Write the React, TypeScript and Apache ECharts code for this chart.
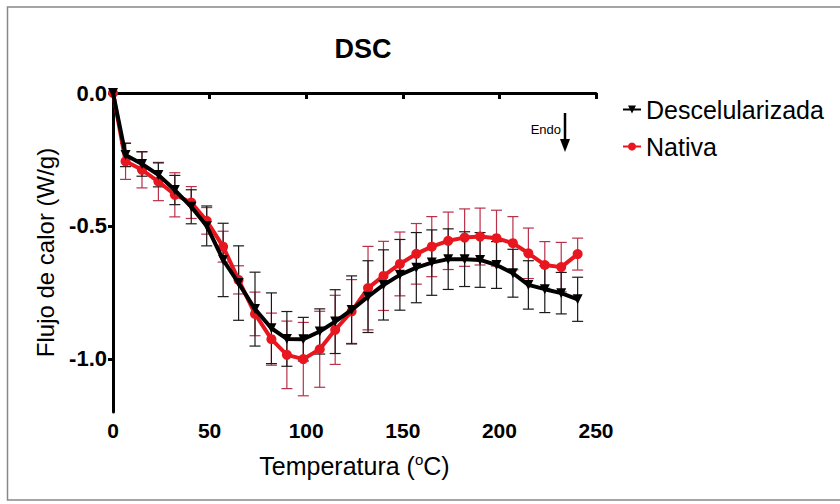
import React, { useEffect, useRef } from "react";
import * as echarts from "echarts";

const temps = [0, 6.5, 15, 23.5, 32, 40.5, 48.5, 57, 65, 73.5, 82, 90, 98.5, 107, 115, 123.5, 132, 140, 148.5, 157, 165, 173.5, 182, 190, 198.5, 207, 215, 223.5, 232, 240.5];
const descel = [0, -0.233, -0.267, -0.308, -0.365, -0.428, -0.5, -0.628, -0.715, -0.813, -0.885, -0.925, -0.926, -0.897, -0.86, -0.816, -0.766, -0.722, -0.684, -0.657, -0.638, -0.625, -0.625, -0.628, -0.647, -0.678, -0.722, -0.738, -0.753, -0.776];
const descelErr = [0, 0.044, 0.046, 0.045, 0.055, 0.064, 0.075, 0.138, 0.14, 0.139, 0.133, 0.103, 0.082, 0.085, 0.12, 0.128, 0.135, 0.132, 0.133, 0.132, 0.123, 0.114, 0.103, 0.103, 0.088, 0.09, 0.091, 0.088, 0.078, 0.083];
const nativa = [0, -0.257, -0.289, -0.333, -0.383, -0.412, -0.481, -0.578, -0.703, -0.831, -0.926, -0.985, -1.001, -0.964, -0.891, -0.822, -0.734, -0.688, -0.643, -0.605, -0.578, -0.556, -0.544, -0.54, -0.546, -0.565, -0.603, -0.647, -0.655, -0.606];
const nativaErr = [0, 0.068, 0.068, 0.072, 0.083, 0.06, 0.05, 0.058, 0.053, 0.082, 0.098, 0.127, 0.138, 0.143, 0.13, 0.12, 0.157, 0.13, 0.12, 0.114, 0.113, 0.108, 0.108, 0.107, 0.105, 0.1, 0.095, 0.088, 0.093, 0.06];
const yTicks = [0, -0.5, -1.0];
const seriesNames = ["Descelularizada", "Nativa"];

const FONT = "'Liberation Sans', Arial, sans-serif";

function errRender(color: string) {
  return (params: any, api: any) => {
    const x = api.value(0);
    const lo = api.value(1);
    const hi = api.value(2);
    if (hi - lo <= 0) return null;
    const p1 = api.coord([x, hi]);
    const p2 = api.coord([x, lo]);
    const w = 5.5;
    const style = { stroke: color, lineWidth: 1.2, fill: "none" };
    return {
      type: "group",
      children: [
        { type: "line", shape: { x1: p1[0], y1: p1[1], x2: p2[0], y2: p2[1] }, style },
        { type: "line", shape: { x1: p1[0] - w, y1: p1[1], x2: p1[0] + w, y2: p1[1] }, style },
        { type: "line", shape: { x1: p2[0] - w, y1: p2[1], x2: p2[0] + w, y2: p2[1] }, style },
      ],
    };
  };
}

export default function App() {
  const ref = useRef<HTMLDivElement>(null);
  useEffect(() => {
    if (!ref.current) return;
    const chart = echarts.init(ref.current, null, { renderer: "svg" });
    const dData = temps.map((t, i) => [t, descel[i]]);
    const nData = temps.map((t, i) => [t, nativa[i]]);
    const dErr = temps.map((t, i) => [t, descel[i] - descelErr[i], descel[i] + descelErr[i]]);
    const nErr = temps.map((t, i) => [t, nativa[i] - nativaErr[i], nativa[i] + nativaErr[i]]);
    chart.setOption({
      animation: false,
      backgroundColor: "#fff",
      textStyle: { fontFamily: FONT },
      title: {
        text: "DSC",
        left: 358,
        top: 30,
        textAlign: "center",
        textStyle: { fontFamily: FONT, fontWeight: "bold", fontSize: 27, color: "#000" },
      },
      legend: {
        data: seriesNames,
        orient: "vertical",
        left: 617,
        top: 92,
        itemGap: 12,
        itemWidth: 18,
        itemHeight: 10,
        textStyle: { fontFamily: FONT, fontSize: 25, color: "#000" },
      },
      grid: { left: 113, top: 93, width: 483, height: 319 },
      xAxis: {
        type: "value",
        min: 0,
        max: 250,
        interval: 50,
        name: "Temperatura ({sup|o}C)",
        nameLocation: "middle",
        nameGap: 40,
        nameTextStyle: {
          fontFamily: FONT,
          fontSize: 25,
          color: "#000",
          rich: { sup: { fontSize: 15, verticalAlign: "top", padding: [0, 0, 12, 0], color: "#000", fontFamily: FONT } },
        },
        axisLine: { lineStyle: { color: "#000", width: 3 } },
        axisTick: { show: true, length: 6, lineStyle: { color: "#000", width: 3 } },
        axisLabel: { fontFamily: FONT, fontWeight: "bold", fontSize: 21, color: "#000", margin: 8 },
        splitLine: { show: false },
      },
      yAxis: {
        type: "value",
        min: -1.2,
        max: 0,
        name: "Flujo de calor (W/g)",
        nameLocation: "middle",
        nameGap: 56,
        nameTextStyle: { fontFamily: FONT, fontSize: 24, color: "#000" },
        axisLine: { onZero: false, lineStyle: { color: "#000", width: 3 } },
        axisTick: { show: true, length: 5, customValues: yTicks, lineStyle: { color: "#000", width: 3 } },
        axisLabel: {
          fontFamily: FONT,
          fontWeight: "bold",
          fontSize: 22,
          color: "#000",
          margin: 6,
          customValues: yTicks,
          formatter: (v: number) => v.toFixed(1),
        },
        splitLine: { show: false },
      },
      series: [
        {
          name: "errN",
          type: "custom",
          renderItem: errRender("#b8314a"),
          data: nErr,
          encode: { x: 0, y: [1, 2] },
          clip: false,
          z: 1,
          silent: true,
        },
        {
          name: "errD",
          type: "custom",
          renderItem: errRender("#1a1a1a"),
          data: dErr,
          encode: { x: 0, y: [1, 2] },
          clip: false,
          z: 1,
          silent: true,
        },
        {
          name: "Nativa",
          type: "line",
          data: nData,
          color: "#e8161f",
          lineStyle: { width: 4, color: "#e8161f" },
          symbol: "circle",
          symbolSize: 10,
          itemStyle: { color: "#e8161f" },
          z: 3,
        },
        {
          name: "Descelularizada",
          type: "line",
          data: dData,
          color: "#000",
          lineStyle: { width: 4, color: "#000" },
          symbol: "triangle",
          symbolRotate: 180,
          symbolSize: 10,
          itemStyle: { color: "#000" },
          z: 4,
          markLine: {
            silent: true,
            symbol: ["none", "none"],
            label: { show: false },
            lineStyle: { type: [2, 3], color: "#000", width: 2 },
            data: [{ yAxis: 0 }],
          },
        },
      ],
      graphic: [
        {
          type: "rect",
          shape: { x: 7.5, y: 7, width: 840, height: 493 },
          style: { fill: "none", stroke: "#888", lineWidth: 1.5 },
          silent: true,
        },
        {
          type: "text",
          x: 561,
          y: 123,
          style: { text: "Endo", fontSize: 13, fontFamily: FONT, fill: "#000", textAlign: "right" },
        },
        {
          type: "line",
          shape: { x1: 565, y1: 113, x2: 565, y2: 142 },
          style: { stroke: "#000", lineWidth: 2.5 },
        },
        {
          type: "polygon",
          shape: { points: [[560, 139], [570, 139], [565, 152]] },
          style: { fill: "#000" },
        },
      ],
    });
    return () => chart.dispose();
  }, []);
  return <div ref={ref} style={{ position: "fixed", left: 0, top: 0, width: 840, height: 504 }} />;
}
